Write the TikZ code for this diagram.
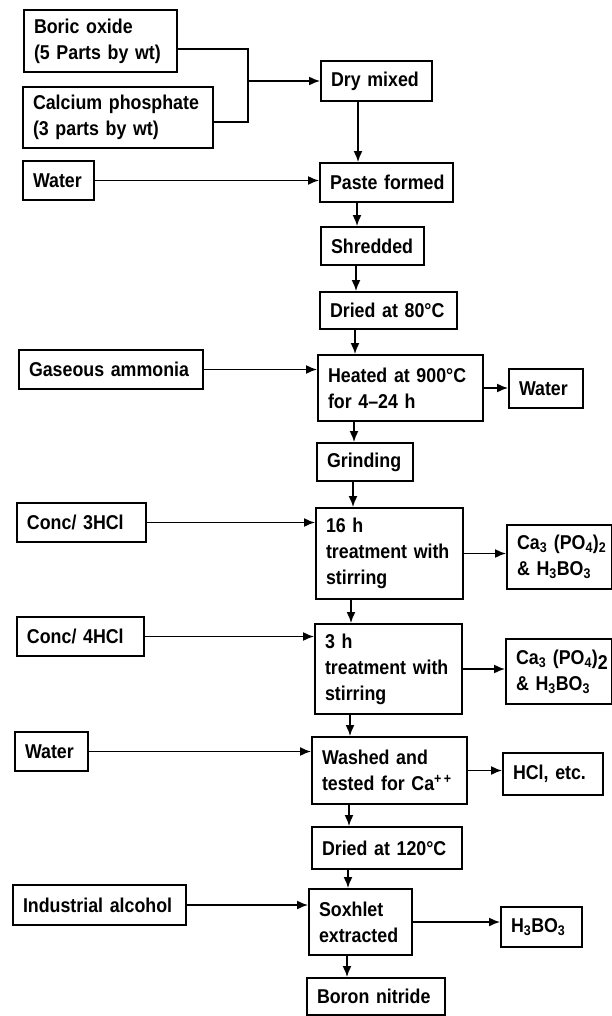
\documentclass[tikz,border=0pt]{standalone}
\usepackage{fontspec}
\setmainfont{Liberation Sans}[FakeStretch=0.89]
\usetikzlibrary{arrows.meta}
\tikzset{
  box/.style={draw, line width=1.9pt, align=left, inner xsep=10pt, inner ysep=2pt,
    font=\fontsize{20}{26}\selectfont\bfseries},
  line/.style={line width=1.7pt},
  arr/.style={line width=1.7pt, -{Latex[length=11pt,width=9pt]}}
}
\newcommand\bx[7]{\node[box, minimum width=#4pt, minimum height=#5pt, text width=#6pt] (#1) at (#2,#3) {#7};}
\begin{document}
\begin{tikzpicture}[x=1pt,y=-1pt]
\useasboundingbox (0,0) rectangle (612,1016);
\bx{boric}{100.5}{41}{153}{62}{133}{Boric~oxide\\(5~Parts~by~wt)}
\bx{calc}{118}{117.5}{190}{61}{170}{Calcium~phosphate\\(3~parts~by~wt)}
\bx{dry}{376.5}{81}{111}{40}{91}{Dry~mixed}
\bx{watera}{58.5}{180.5}{71}{39}{51}{Water}
\bx{paste}{386.5}{182.5}{133}{39}{113}{Paste~formed}
\bx{shred}{372.5}{246}{103}{38}{83}{Shredded}
\bx{drya}{388.5}{310.5}{137}{37}{117}{Dried~at~80°C}
\bx{ammonia}{111}{369.5}{184}{39}{164}{Gaseous~ammonia}
\bx{heated}{400.5}{388}{165}{66}{145}{Heated~at~900°C\\for~4–24~h}
\bx{wout}{546}{388.5}{74}{39}{54}{Water}
\bx{grind}{365}{462}{96}{38}{76}{Grinding}
\bx{concc}{81.5}{522.5}{129}{39}{109}{Conc/~3HCl}
\bx{tsix}{389.5}{553.5}{147}{91}{127}{16~h\\treatment~with\\stirring}
\bx{caa}{559.5}{557}{103}{64}{85}{Ca\textsubscript{3}~(PO\textsubscript{4})\textsubscript{2}\\\&~H\textsubscript{3}BO\textsubscript{3}}
\bx{concd}{80.5}{636.5}{127}{39}{107}{Conc/~4HCl}
\bx{tthree}{388.5}{669}{147}{90}{127}{3~h\\treatment~with\\stirring}
\bx{cab}{559}{671.5}{104}{65}{86}{Ca\textsubscript{3}~(PO\textsubscript{4})\raisebox{-5pt}{2}\\\&~H\textsubscript{3}BO\textsubscript{3}}
\bx{waterb}{51.5}{751.5}{73}{39}{53}{Water}
\bx{washed}{389.5}{770.5}{155}{67}{135}{Washed~and\\tested~for~Ca\textsuperscript{+\,+}}
\bx{hcl}{553}{774}{100}{42}{80}{HCl,~etc.}
\bx{dryb}{387}{848}{150}{42}{130}{Dried~at~120°C}
\bx{alcohol}{99.5}{905}{173}{40}{153}{Industrial~alcohol}
\bx{soxhlet}{360.5}{922}{103}{66}{83}{Soxhlet\\extracted}
\bx{hbo}{541.5}{927}{81}{40}{61}{H\textsubscript{3}BO\textsubscript{3}}
\bx{boron}{376}{996.5}{138}{37}{118}{Boron~nitride}
% bracket joining the two raw materials
\coordinate (jt) at (248,49);
\coordinate (jb) at (248,122);
\coordinate (jm) at (248,81);
\draw[line] (boric.east |- jt) -- (jt) -- (jb) -- (calc.east |- jb);
\draw[arr] (jm) -- (dry.west |- jm);
% vertical flow columns
\coordinate (ca) at (358,0);
\coordinate (cb) at (357,0);
\coordinate (cc) at (356,0);
\coordinate (cd) at (355,0);
\coordinate (ce) at (354,0);
\coordinate (cf) at (353,0);
\coordinate (cg) at (351,0);
\coordinate (ch) at (350,0);
\coordinate (ci) at (349,0);
\coordinate (cj) at (348,0);
\coordinate (ck) at (347,0);
\draw[arr] (dry.south -| ca) -- (paste.north -| ca);
\draw[arr] (paste.south -| cb) -- (shred.north -| cb);
\draw[arr] (shred.south -| cc) -- (drya.north -| cc);
\draw[arr] (drya.south -| cd) -- (heated.north -| cd);
\draw[arr] (heated.south -| ce) -- (grind.north -| ce);
\draw[arr] (grind.south -| cf) -- (tsix.north -| cf);
\draw[arr] (tsix.south -| cg) -- (tthree.north -| cg);
\draw[arr] (tthree.south -| ch) -- (washed.north -| ch);
\draw[arr] (washed.south -| ci) -- (dryb.north -| ci);
\draw[arr] (dryb.south -| cj) -- (soxhlet.north -| cj);
\draw[arr] (soxhlet.south -| ck) -- (boron.north -| ck);
% horizontal inputs and outputs
\draw[arr] (watera.east) -- (watera.east -| paste.west);
\draw[arr] (ammonia.east) -- (ammonia.east -| heated.west);
\draw[arr] (heated.east) -- (heated.east -| wout.west);
\draw[arr] (concc.east) -- (concc.east -| tsix.west);
\draw[arr] (tsix.east) -- (tsix.east -| caa.west);
\draw[arr] (concd.east) -- (concd.east -| tthree.west);
\draw[arr] (tthree.east) -- (tthree.east -| cab.west);
\draw[arr] (waterb.east) -- (waterb.east -| washed.west);
\draw[arr] (washed.east) -- (washed.east -| hcl.west);
\draw[arr] (alcohol.east) -- (alcohol.east -| soxhlet.west);
\draw[arr] (soxhlet.east) -- (soxhlet.east -| hbo.west);
\end{tikzpicture}
\end{document}
